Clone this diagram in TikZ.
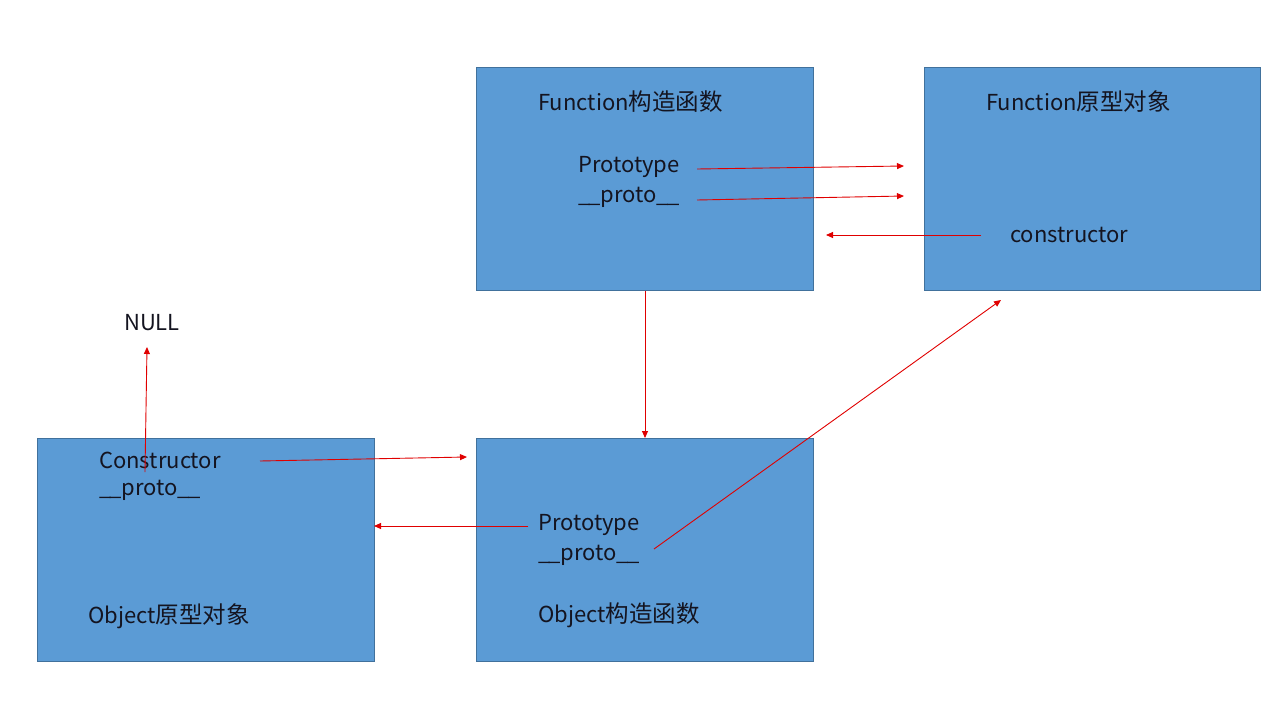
\documentclass[tikz,border=0pt]{standalone}
\usepackage{fontspec}
\setmainfont{Noto Sans CJK SC}
\usetikzlibrary{arrows.meta}
\definecolor{boxfill}{HTML}{5B9BD5}
\definecolor{boxline}{HTML}{41719C}
\definecolor{txt}{HTML}{141420}
\definecolor{arr}{HTML}{E00000}
\newcommand\zhtxt[1]{{\fontsize{23.5}{26}\selectfont #1}}
\newcommand\pp{\_\kern-2pt\_proto\_\kern-2pt\_}
\begin{document}
\begin{tikzpicture}[x=1pt,y=-1pt,
  boxst/.style={draw=boxline,fill=boxfill,line width=1pt},
  lbl/.style={anchor=west,inner sep=0pt,text=txt,font=\fontsize{22}{26}\selectfont,yshift=-2pt},
  arrow/.style={draw=arr,line width=0.9pt,-{Triangle[length=7pt,width=6pt]}}]
\useasboundingbox (0,0) rectangle (1280,720);
% boxes
\draw[boxst] (476,67) rectangle (813,290);
\draw[boxst] (924,67) rectangle (1260,290);
\draw[boxst] (37,438) rectangle (374,661);
\draw[boxst] (476,438) rectangle (813,661);
% texts
\node[lbl] (fctitle) at (538,100) {Function\zhtxt{构造函数}};
\node[lbl] (fcproto) at (578,165) {Prototype};
\node[lbl] (fcpp) at (578,195) {\pp};
\node[lbl] (fptitle) at (986,100) {Function\zhtxt{原型对象}};
\node[lbl] (fpcons) at (1010,233) {constructor};
\node[lbl] (null) at (124,321) {NULL};
\node[lbl] (opcons) at (99,458) {Constructor};
\node[lbl] (oppp) at (99,488) {\pp};
\node[lbl] (optitle) at (88,614) {Object\zhtxt{原型对象}};
\node[lbl] (ocproto) at (538,523) {Prototype};
\node[lbl] (ocpp) at (538,553) {\pp};
\node[lbl] (octitle) at (538,613) {Object\zhtxt{构造函数}};
% arrow end points
\coordinate (a1s) at (697,169); \coordinate (a1e) at (904,166);
\coordinate (a2s) at (697,200); \coordinate (a2e) at (904,196);
\coordinate (a3s) at (981,235); \coordinate (a3e) at (826,235);
\coordinate (a4s) at (645,291); \coordinate (a4e) at (645,438);
\coordinate (a5s) at (145,472); \coordinate (a5e) at (147,347);
\coordinate (a6s) at (260,461); \coordinate (a6e) at (467,457);
\coordinate (a7s) at (528,526); \coordinate (a7e) at (374,526);
\coordinate (a8s) at (654,549); \coordinate (a8e) at (1001,300);
\foreach \i in {1,...,8} \draw[arrow] (a\i s) -- (a\i e);
\end{tikzpicture}
\end{document}
